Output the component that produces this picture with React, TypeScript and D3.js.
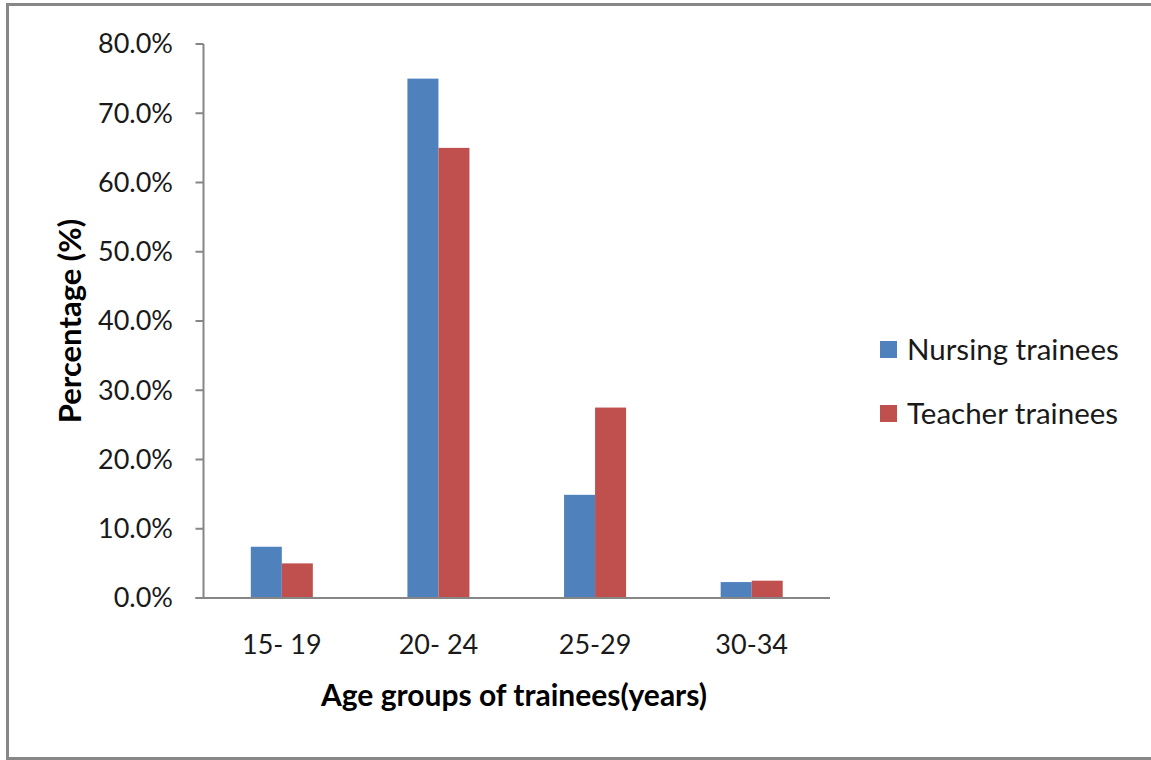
import React from "react";
import * as d3 from "d3";

const ageGroups = ["15- 19", "20- 24", "25-29", "30-34"];
const nursing = [7.4, 75.0, 14.9, 2.3];
const teacher = [5.0, 65.0, 27.5, 2.5];
const seriesNames = ["Nursing trainees", "Teacher trainees"];
const yTicks = [0, 10, 20, 30, 40, 50, 60, 70, 80];

const colors = ["#4F81BD", "#C0504D"];
const axisColor = "#868686";
const font = "Lato, 'Open Sans', sans-serif";

export default function App() {
  const width = 1151;
  const height = 760;
  const plot = { left: 203.5, right: 830, top: 44, bottom: 598 };

  const x0 = d3.scaleBand<string>()
    .domain(ageGroups)
    .range([plot.left, plot.right])
    .paddingInner(0.604)
    .paddingOuter(0.302);

  const x1 = d3.scaleBand<number>()
    .domain([0, 1])
    .range([0, x0.bandwidth()]);

  const y = d3.scaleLinear()
    .domain([0, 80])
    .range([plot.bottom, plot.top]);

  const series = [nursing, teacher];

  return (
    <svg
      width={width}
      height={height}
      style={{ position: "absolute", left: 0, top: 0, background: "#fff" }}
    >
      {/* chart frame */}
      <rect x={7.5} y={4.5} width={1170} height={754} fill="#fff" stroke="#878787" strokeWidth={3} />

      {/* bars */}
      {ageGroups.map((g, i) => (
        <g key={g} transform={`translate(${x0(g)},0)`}>
          {series.map((s, j) => (
            <rect
              key={j}
              x={x1(j)}
              y={y(s[i])}
              width={x1.bandwidth()}
              height={y(0) - y(s[i])}
              fill={colors[j]}
            />
          ))}
        </g>
      ))}

      {/* y axis */}
      <line x1={plot.left} x2={plot.left} y1={plot.top} y2={plot.bottom} stroke={axisColor} strokeWidth={2} />
      {yTicks.map(t => (
        <g key={t}>
          <line x1={plot.left - 8} x2={plot.left} y1={y(t)} y2={y(t)} stroke={axisColor} strokeWidth={2} />
          <text
            x={173}
            y={y(t)}
            dy="0.35em"
            textAnchor="end"
            fontFamily={font}
            fontSize={27}
            fill="#1a1a1a"
          >
            {t.toFixed(1) + "%"}
          </text>
        </g>
      ))}

      {/* x axis */}
      <line x1={plot.left - 8} x2={plot.right} y1={plot.bottom} y2={plot.bottom} stroke={axisColor} strokeWidth={2} />
      {ageGroups.map(g => (
        <text
          key={g}
          x={x0(g)! + x0.bandwidth() / 2}
          y={654}
          textAnchor="middle"
          fontFamily={font}
          fontSize={27}
          fill="#1a1a1a"
        >
          {g}
        </text>
      ))}

      {/* axis titles */}
      <text
        x={514}
        y={706}
        textAnchor="middle"
        fontFamily={font}
        fontWeight="bold"
        fontSize={30}
        fill="#000"
      >
        Age groups of trainees(years)
      </text>
      <text
        transform="translate(81,321) rotate(-90)"
        textAnchor="middle"
        fontFamily={font}
        fontWeight="bold"
        fontSize={31}
        fill="#000"
      >
        Percentage (%)
      </text>

      {/* legend */}
      {seriesNames.map((name, i) => (
        <g key={name} transform={`translate(880,${341 + i * 64})`}>
          <rect x={0} y={0} width={17} height={17} fill={colors[i]} />
          <text x={27} y={19} fontFamily={font} fontSize={29.5} fill="#1a1a1a">
            {name}
          </text>
        </g>
      ))}
    </svg>
  );
}
